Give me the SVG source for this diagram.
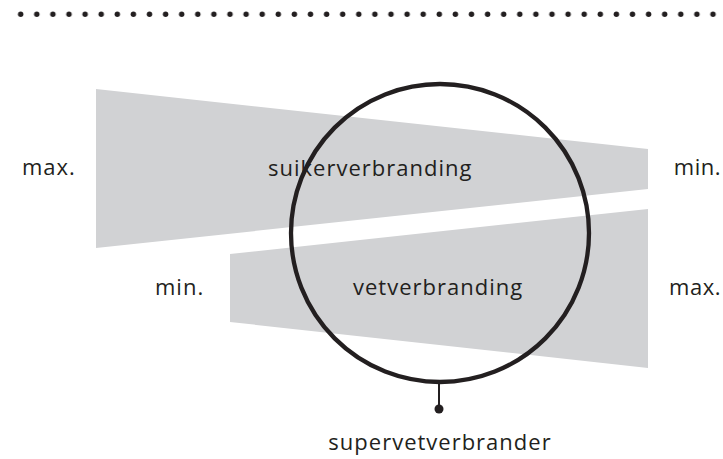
<svg xmlns="http://www.w3.org/2000/svg" width="723" height="459" viewBox="0 0 723 459">
  <style>
    .band { fill: #d1d2d4; }
    .lbl { font-family: "Open Sans", "Noto Sans", sans-serif; font-size: 22px; fill: #231f20; letter-spacing: 1px; }
    .end { text-anchor: end; letter-spacing: 0.5px; }
    .ring { fill: none; stroke: #231f20; stroke-width: 4.3; }
    .dot { fill: #231f20; }
  </style>
  <defs>
    <pattern id="dots" x="12.65" y="0" width="16.1" height="30" patternUnits="userSpaceOnUse">
      <circle cx="8.05" cy="14.3" r="2.7" class="dot"/>
    </pattern>
  </defs>

  <!-- dotted rule along the top -->
  <rect x="12" y="9" width="711" height="11" fill="url(#dots)"/>

  <!-- sugar-burning band: wide on the left, narrow on the right -->
  <g id="suikerverbranding">
    <polygon class="band" points="96,89 648,149 648,189 96,248"/>
    <text class="lbl" x="268" y="176">suikerverbranding</text>
  </g>

  <!-- fat-burning band: narrow on the left, wide on the right -->
  <g id="vetverbranding">
    <polygon class="band" points="230,254 648,209 648,368 230,322"/>
    <text class="lbl" x="353" y="295">vetverbranding</text>
  </g>

  <g id="labels">
    <text class="lbl" x="22" y="175">max.</text>
    <text class="lbl end" x="721" y="175">min.</text>
    <text class="lbl" x="155" y="295">min.</text>
    <text class="lbl end" x="721" y="295">max.</text>
  </g>

  <!-- the overlap zone -->
  <g id="supervetverbrander">
    <circle class="ring" cx="440" cy="233" r="149"/>
    <text class="lbl" x="440" y="450" text-anchor="middle">supervetverbrander</text>
  </g>

  <g id="connectors">
    <line x1="439" y1="382" x2="439" y2="408" stroke="#231f20" stroke-width="2"/>
    <circle class="dot" cx="439" cy="409" r="4.5"/>
  </g>
</svg>
